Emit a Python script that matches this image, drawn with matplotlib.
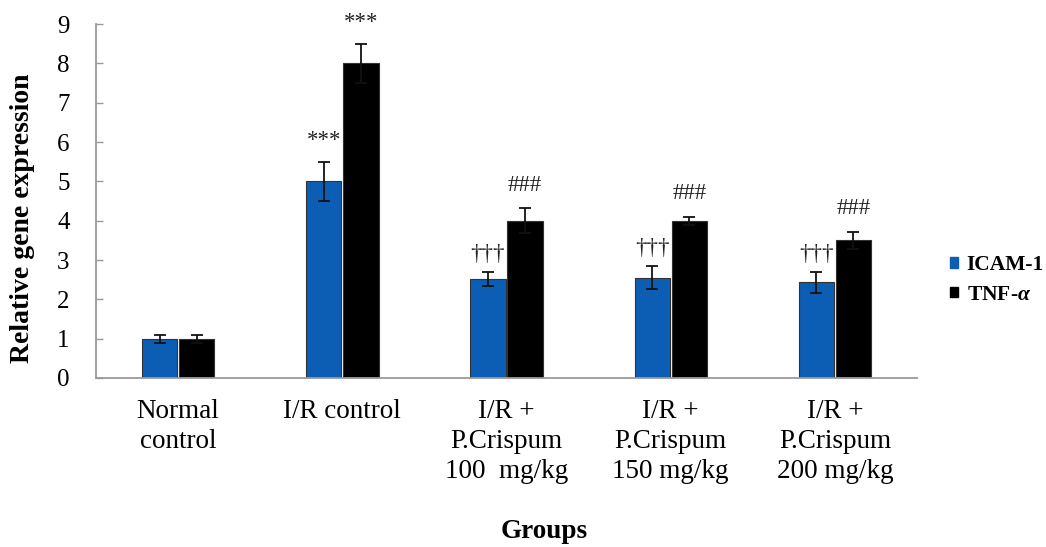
import numpy as np
import matplotlib.pyplot as plt
from matplotlib.patches import Rectangle

plt.rcParams['font.family'] = ['Liberation Serif', 'DejaVu Serif']
plt.rcParams['mathtext.fontset'] = 'custom'
plt.rcParams['mathtext.it'] = 'Liberation Serif:italic:bold'
plt.rcParams['mathtext.rm'] = 'Liberation Serif:bold'

# data
groups = ['Normal\ncontrol', 'I/R control', 'I/R +\nP.Crispum\n100  mg/kg',
          'I/R +\nP.Crispum\n150 mg/kg', 'I/R +\nP.Crispum\n200 mg/kg']
icam = [1.0, 5.0, 2.52, 2.55, 2.43]
icam_err = [0.1, 0.5, 0.18, 0.3, 0.27]
tnf = [1.0, 8.0, 4.0, 4.0, 3.5]
tnf_err = [0.1, 0.5, 0.31, 0.1, 0.22]
icam_marks = ['', '***', '\u2020\u2020\u2020', '\u2020\u2020\u2020', '\u2020\u2020\u2020']
tnf_marks = ['', '***', '###', '###', '###']
series_names = ['ICAM-1', 'TNF-$\\alpha$']

blue = '#0c5db4'
x = np.arange(len(groups))
w = 0.215
off = 0.113
# gap between error bar top and the mark, per symbol
gap = {'*': 0.28, '#': 0.32, '\u2020': 0.17}

fig = plt.figure(figsize=(10.46, 5.47), dpi=100)
ax = fig.add_axes([0.0918, 0.309, 0.7849, 0.647])

ax.bar(x - off, icam, w, color=blue, edgecolor='#333333', linewidth=0.8, zorder=2)
ax.bar(x + off, tnf, w, color='black', edgecolor='#333333', linewidth=0.8, zorder=2)
ax.errorbar(x - off, icam, yerr=icam_err, fmt='none', ecolor='#111111',
            elinewidth=1.3, capsize=4, capthick=1.3, zorder=3)
ax.errorbar(x + off, tnf, yerr=tnf_err, fmt='none', ecolor='#111111',
            elinewidth=1.3, capsize=4, capthick=1.3, zorder=3)

# significance marks above the error bars
for i in range(len(groups)):
    for xs, val, err, mark in [(x[i] - off, icam[i], icam_err[i], icam_marks[i]),
                               (x[i] + off, tnf[i], tnf_err[i], tnf_marks[i])]:
        if mark:
            ax.text(xs, val + err + gap[mark[0]], mark, ha='center', va='bottom',
                    fontsize=16.5, color='#222222')

ax.set_xlim(-0.5, 4.5)
ax.set_ylim(0, 9)
ax.set_yticks(range(0, 10))
ax.set_xticks(x)
ax.set_xticklabels(groups, fontsize=19.5, linespacing=1.28)
ax.tick_params(axis='x', length=0, pad=15)
ax.tick_params(axis='y', direction='in', length=5, width=1, color='#999999',
               labelsize=18, pad=19)
for s in ['top', 'right']:
    ax.spines[s].set_visible(False)
for s in ['left', 'bottom']:
    ax.spines[s].set_color('#9a9a9a')
    ax.spines[s].set_linewidth(1.3)

ax.set_ylabel('Relative gene expression', fontsize=20, fontweight='bold')
ax.yaxis.set_label_coords(-0.0743, 0.452)
fig.text(544 / 1046, 1 - 532 / 547, 'Groups', ha='center', va='center',
         fontsize=19.5, fontweight='bold')

handles = [Rectangle((0, 0), 1, 1, color=blue), Rectangle((0, 0), 1, 1, color='black')]
fig.legend(handles, series_names, loc='center left', bbox_to_anchor=(0.908, 0.488),
           frameon=False, borderpad=0, borderaxespad=0,
           handlelength=0.37, handleheight=0.37, handletextpad=0.42,
           labelspacing=0.45, prop={'weight': 'bold', 'size': 15.5})

plt.savefig('out.png', dpi=100)
